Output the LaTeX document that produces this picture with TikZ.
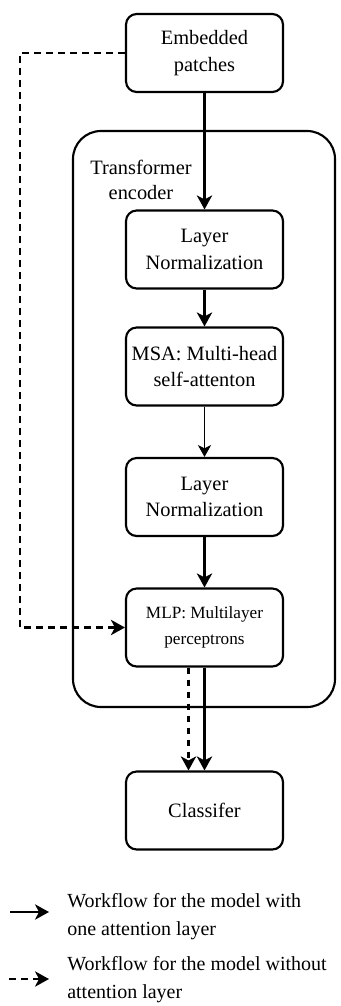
\documentclass[tikz,border=0pt]{standalone}
\usepackage{fontspec}
\setmainfont{Liberation Serif}
\usetikzlibrary{arrows.meta}
\begin{document}
\begin{tikzpicture}[x=0.75pt,y=-0.75pt,
  blockbox/.style={draw, line width=1.6pt, rounded corners=8pt,
    minimum width=117.75pt, minimum height=58.5pt, align=center,
    inner sep=0pt, font=\fontsize{15.3}{20}\selectfont},
  flow/.style={line width=1.6pt, -{Stealth[length=10.5pt,width=11.5pt,inset=3pt]}},
  thinflow/.style={line width=0.8pt, -{Stealth[length=9pt,width=10pt,inset=2.6pt]}},
  dflow/.style={flow, dash pattern=on 5pt off 4pt},
  legendtext/.style={anchor=west, align=left, inner sep=0pt,
    font=\fontsize{15}{21}\selectfont}]
\useasboundingbox (0,0) rectangle (340,1006);

% encoder container
\node[draw, line width=1.6pt, rounded corners=21pt, minimum width=196.5pt,
      minimum height=432pt, inner sep=0pt] (enc) at (204,419) {};
\node[align=center, inner sep=0pt, font=\fontsize{15.3}{19}\selectfont]
  (enclabel) at (141,180) {Transformer\\encoder};

% processing blocks
\node[blockbox] (ep)  at (204.5,53)    {Embedded\\patches};
\node[blockbox] (ln1) at (204.5,249.5) {Layer\\Normalization};
\node[blockbox] (msa) at (204.5,366.5) {MSA: Multi-head\\self-attenton};
\node[blockbox] (ln2) at (204.5,497)   {Layer\\Normalization};
\node[blockbox, font=\fontsize{12.9}{19.5}\selectfont]
                (mlp) at (204.5,627.5) {MLP: Multilayer\\perceptrons};
\node[blockbox] (cls) at (204.5,810.5) {Classifer};

% workflow with the attention layer
\draw[flow] (ep.south) -- (ln1.north);
\draw[flow] (ln1.south) -- (msa.north);
\draw[thinflow] (msa.south) -- (ln2.north);
\draw[flow] (ln2.south) -- (mlp.north);
\draw[flow] (mlp.south) -- (cls.north);

% workflow without the attention layer
\draw[dflow] (ep.west) -- ++(-105,0) |- (mlp.west);
\draw[dflow] ([xshift=-12pt]mlp.south) -- ([xshift=-12pt]cls.north);

% legend
\coordinate (las) at (10,912);
\coordinate (lae) at (49,912);
\coordinate (lbs) at (9,979);
\coordinate (lbe) at (49,979);
\draw[flow] (las) -- (lae);
\draw[dflow] (lbs) -- (lbe);
\node[legendtext] (lta) at (67,917) {Workflow for the model with\\one attention layer};
\node[legendtext] (ltb) at (67,980) {Workflow for the model without\\attention layer};
\end{tikzpicture}
\end{document}
